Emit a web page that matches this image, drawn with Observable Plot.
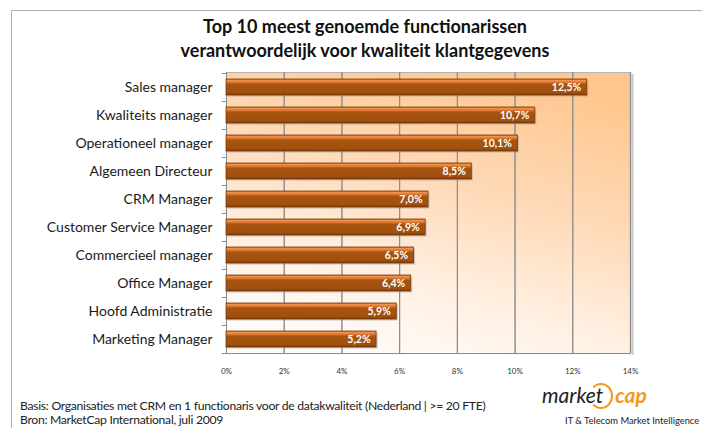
<!DOCTYPE html>
<html><head><meta charset="utf-8">
<script src="https://cdn.jsdelivr.net/npm/d3@7"></script>
<script src="https://cdn.jsdelivr.net/npm/@observablehq/plot@0.6"></script>
<style>
body{margin:0;background:#fff;}
#wrap{position:relative;width:702px;height:428px;overflow:hidden;font-family:Lato,"Open Sans",sans-serif;color:#222;}
#border{position:absolute;left:11px;top:10px;width:700px;height:430px;border-left:1px solid #b0b0b0;border-top:1px solid #b0b0b0;}
#chart{position:absolute;left:0;top:0;}
#title{position:absolute;left:0;width:730px;top:14px;text-align:center;font-weight:bold;font-size:18px;line-height:24px;color:#111;}
#foot{position:absolute;left:20px;top:399px;font-size:12.2px;letter-spacing:-0.3px;line-height:14px;color:#222;}
#logo{position:absolute;left:542px;top:382px;font-style:italic;font-size:21px;white-space:nowrap;}
#logo .m{color:#222;}
#logo .c{color:#f39a1a;font-weight:bold;}
#logo .arc{display:inline-block;width:20px;height:22px;border:2px solid #f39a1a;border-left-color:transparent;border-bottom-color:#f39a1a;border-radius:50%;vertical-align:-6px;margin-left:-14px;margin-right:2px;}
#tag{position:absolute;left:565px;top:415px;font-size:9.4px;color:#222;white-space:nowrap;}
</style></head><body>
<div id="wrap">
<div id="border"></div>
<div id="chart"></div>
<div id="title"></div>
<div id="foot"></div>
<div id="logo"><span class="m">market</span><span class="arc"></span><span class="c">cap</span></div>
<div id="tag">IT &amp; Telecom Market Intelligence</div>
</div>
<script>
const titleLines = ["Top 10 meest genoemde functionarissen", "verantwoordelijk voor kwaliteit klantgegevens"];
const categories = ["Sales manager","Kwaliteits manager","Operationeel manager","Algemeen Directeur","CRM Manager","Customer Service Manager","Commercieel manager","Office Manager","Hoofd Administratie","Marketing Manager"];
const values = [12.5, 10.7, 10.1, 8.5, 7.0, 6.9, 6.5, 6.4, 5.9, 5.2];
const xTicks = [0, 2, 4, 6, 8, 10, 12, 14];
const footLines = ["Basis: Organisaties met CRM en 1 functionaris voor de datakwaliteit (Nederland | >= 20 FTE)", "Bron: MarketCap International, juli 2009"];

document.getElementById("title").innerHTML = titleLines.join("<br>");
document.getElementById("foot").innerHTML = footLines.map(s => s.replace(/&/g, "&amp;").replace(/</g, "&lt;").replace(/>/g, "&gt;")).join("<br>");

const data = categories.map((c, i) => ({cat: c, value: values[i]}));
const nl = d3.formatLocale({decimal: ",", thousands: ".", grouping: [3], currency: ["€", ""]});
const fmt = nl.format(".1f");

const defs = () => {
  const d = d3.create("svg:defs");
  const bg = d.append("linearGradient").attr("id", "bgGrad").attr("x1", 0.75).attr("y1", 0).attr("x2", 0.35).attr("y2", 1);
  bg.append("stop").attr("offset", 0).attr("stop-color", "#ffc68d");
  bg.append("stop").attr("offset", 0.4).attr("stop-color", "#fed9b6");
  bg.append("stop").attr("offset", 0.75).attr("stop-color", "#fff0e2");
  bg.append("stop").attr("offset", 1).attr("stop-color", "#fffbf8");
  const bar = d.append("linearGradient").attr("id", "barGrad").attr("x1", 0).attr("y1", 0).attr("x2", 0).attr("y2", 1);
  [[0, "#c8661f"], [0.08, "#f29350"], [0.2, "#e07a35"], [0.32, "#a8540f"], [0.85, "#a0500e"], [1, "#7a3a08"]]
    .forEach(([o, c]) => bar.append("stop").attr("offset", o).attr("stop-color", c));
  return d.node();
};

const chart = Plot.plot({
  width: 702,
  height: 428,
  marginLeft: 226,
  marginRight: 72,
  marginTop: 72,
  marginBottom: 75,
  style: {fontFamily: "Lato, 'Open Sans', sans-serif", background: "transparent", overflow: "visible"},
  x: {domain: [0, 14], axis: null},
  y: {domain: categories, paddingInner: 0.43, paddingOuter: 0.215, axis: null},
  marks: [
    defs,
    Plot.frame({fill: "url(#bgGrad)", stroke: "#b5b5b5"}),
    Plot.ruleX(xTicks.slice(1, -1), {stroke: "#9a9a9a", strokeWidth: 1}),
    Plot.ruleX([14], {stroke: "#c8c8c8", strokeWidth: 2, dx: 2, dy: 2}),
    Plot.ruleX([14], {stroke: "#6e6e6e", strokeWidth: 1.2}),
    Plot.ruleX([0], {stroke: "#8a8a8a", strokeWidth: 1}),
    Plot.ruleY(categories, {y: d => d, x1: -0.15, x2: 0, dy: -14.05, stroke: "#8a8a8a"}),
    Plot.ruleY(categories.slice(-1), {y: d => d, x1: -0.15, x2: 14, dy: 14.05, stroke: "#8a8a8a"}),
    Plot.tickX(xTicks, {x: d => d, frameAnchor: "bottom", stroke: "#8a8a8a"}),
    Plot.barX(data, {x: "value", y: "cat", fill: "#8c8c8c", fillOpacity: 0.45, dx: 1.5, dy: 1.5}),
    Plot.barX(data, {x: "value", y: "cat", fill: "url(#barGrad)", stroke: "#7a3a08", strokeWidth: 0.8}),
    Plot.text(data, {x: "value", y: "cat", text: d => fmt(d.value) + "%", textAnchor: "end", dx: -6, dy: 0.5, fill: "#fff", fontWeight: "bold", fontSize: 10.5}),
    Plot.text(categories, {y: d => d, frameAnchor: "left", textAnchor: "end", dx: -14, fontSize: 14, fill: "#1a1a1a"}),
    Plot.text(xTicks, {x: d => d, frameAnchor: "bottom", dy: 20, text: d => d + "%", fontSize: 8, fill: "#333"})
  ]
});
document.getElementById("chart").appendChild(chart);
</script>
</body></html>
